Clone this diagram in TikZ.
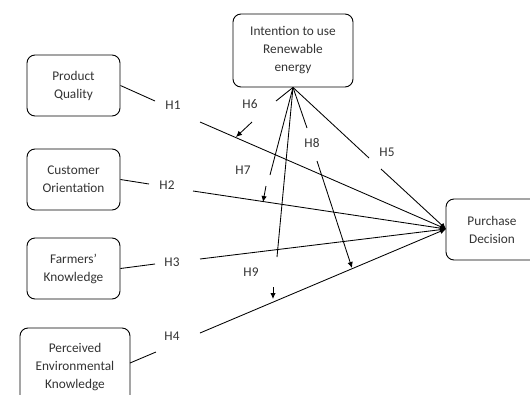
\documentclass[tikz,border=0pt]{standalone}
\usepackage{fontspec}
\setmainfont{Carlito}
\usetikzlibrary{arrows.meta}
\definecolor{txt}{gray}{0.2}
\begin{document}
\begin{tikzpicture}[x=1pt,y=-1pt,
  box/.style={draw,rounded corners=8pt,line width=0.9pt,align=center,inner sep=0pt,
    text=txt,font=\fontsize{13.3}{18}\selectfont},
  hlab/.style={font=\fontsize{13.3}{16}\selectfont,text=txt,inner sep=1pt},
  ln/.style={line width=0.85pt},
  arr/.style={line width=0.85pt,-{Latex[length=6pt,width=5.5pt]}}]
\useasboundingbox (0,0) rectangle (530,394);
\clip (0,0) rectangle (530,394);
% boxes
\node[box,minimum width=93pt,minimum height=61pt] (pq) at (73.5,85.5) {Product\\Quality};
\node[box,minimum width=93pt,minimum height=61pt] (co) at (73.5,179.5) {Customer\\Orientation};
\node[box,minimum width=93pt,minimum height=61pt] (fk) at (73.5,268.5) {Farmers’\\Knowledge};
\node[box,minimum width=110pt,minimum height=78pt] (pe) at (75,367) {Perceived\\Environmental\\Knowledge};
\node[box,minimum width=120pt,minimum height=73pt] (ie) at (293,50.5) {Intention to use\\Renewable\\energy};
\node[box,minimum width=92pt,minimum height=61pt] (pd) at (492,229.5) {Purchase\\Decision};
% labels
\node[hlab] (h1) at (173,105) {H1};
\node[hlab] (h2) at (167,185) {H2};
\node[hlab] (h3) at (172,262) {H3};
\node[hlab] (h4) at (172,336) {H4};
\node[hlab] (h5) at (387,152) {H5};
\node[hlab] (h6) at (250,104) {H6};
\node[hlab] (h7) at (243,170) {H7};
\node[hlab] (h8) at (312,143) {H8};
\node[hlab] (h9) at (251,272) {H9};
% coordinates
\coordinate (a1) at (155,101);  \coordinate (b1) at (200,122);
\coordinate (a2) at (149,184);  \coordinate (b2) at (193,191);
\coordinate (a3) at (155,264);  \coordinate (b3) at (200,259);
\coordinate (s4) at (130,363);
\coordinate (a4) at (156,352);  \coordinate (b4) at (200,333);
\coordinate (a5) at (369,158);  \coordinate (b5) at (381,169);
\coordinate (a6) at (276,101);  \coordinate (b6) at (252,122); \coordinate (c6) at (236,137);
\coordinate (a7) at (270,175);  \coordinate (b7) at (266,186); \coordinate (c7) at (263,202);
\coordinate (a8) at (307,128);  \coordinate (b8) at (317,161); \coordinate (c8) at (352,268);
\coordinate (a9) at (277,257);  \coordinate (b9) at (273,287); \coordinate (c9) at (273,299);
\coordinate (pin) at (446,229);
% H1-H4
\draw[ln] (pq.east) -- (a1);
\draw[arr] (b1) -- (pin);
\draw[ln] (co.east) -- (a2);
\draw[arr] (b2) -- (pin);
\draw[ln] (fk.east) -- (a3);
\draw[arr] (b3) -- (pin);
\draw[ln] (s4) -- (a4);
\draw[arr] (b4) -- (pin);
% H5
\draw[ln] (ie.south) -- (a5);
\draw[arr] (b5) -- (pin);
% H6-H9
\draw[ln] (ie.south) -- (a6);
\draw[arr] (b6) -- (c6);
\draw[ln] (ie.south) -- (a7);
\draw[arr] (b7) -- (c7);
\draw[ln] (ie.south) -- (a8);
\draw[arr] (b8) -- (c8);
\draw[ln] (ie.south) -- (a9);
\draw[arr] (b9) -- (c9);
\end{tikzpicture}
\end{document}
